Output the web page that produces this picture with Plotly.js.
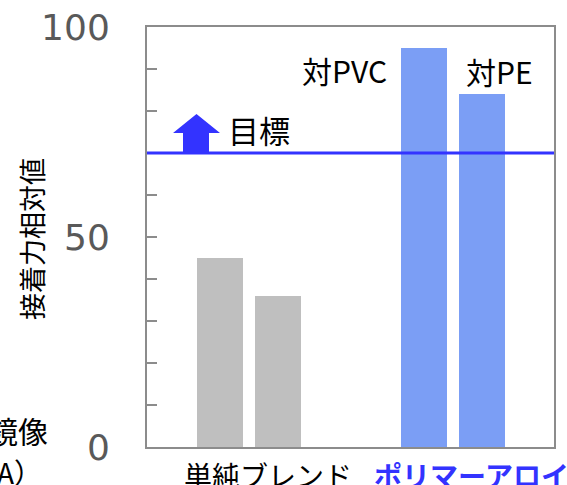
<!DOCTYPE html>
<html>
<head>
<meta charset="utf-8">
<script src="https://cdn.plot.ly/plotly-3.0.1.min.js"></script>
<style>html,body{margin:0;padding:0;background:#fff;}#chart{width:567px;height:485px;}</style>
</head>
<body>
<div id="chart"></div>
<script>
// ---- data ----
const groups = ['単純ブレンド', 'ポリマーアロイ'];
const substrates = ['対PVC', '対PE'];
const blendValues = [45, 36];
const alloyValues = [95, 84];
const targetValue = 70;
const targetLabel = '目標';
const yTitle = '接着力相対値';
const yTickLabels = ['0', '50', '100'];

// ---- layout geometry ----
const W = 567, H = 485;
const L = 147, R = 554, T = 27, B = 447;
const px = x => (x - L) / (R - L);
const py = y => (B - y) / (B - T);
const unit = 58; // px per x unit
const xOf = p => (p - L) / unit;
const blendPos = [xOf(220), xOf(278)];
const alloyPos = [xOf(424), xOf(482)];
const barW = 46 / unit;

const jp = '"Noto Sans CJK JP", "Noto Sans", sans-serif';
const blue = '#3333ff';

const traces = [
  {type: 'bar', x: blendPos, y: blendValues, width: barW, marker: {color: '#bfbfbf'},
   name: groups[0], text: substrates, hoverinfo: 'y', textposition: 'none'},
  {type: 'bar', x: alloyPos, y: alloyValues, width: barW, marker: {color: '#7b9ef5'},
   name: groups[1], text: substrates, hoverinfo: 'y', textposition: 'none'}
];

const tickvals = [];
for (let v = 0; v <= 100; v += 10) tickvals.push(v);
const ticktext = tickvals.map(v => (v % 50 === 0 ? yTickLabels[v / 50] : ''));

// arrow (pixel coords -> axis coords)
const ax = x => xOf(x);
const ay = y => (B - y) / 4.2;
const arrowPath = 'M' + ax(173) + ',' + ay(133) + ' L' + ax(196.5) + ',' + ay(114) + ' L' + ax(220) + ',' + ay(133) +
  ' L' + ax(209) + ',' + ay(133) + ' L' + ax(209) + ',' + targetValue + ' L' + ax(183) + ',' + targetValue +
  ' L' + ax(183) + ',' + ay(133) + ' Z';

function ann(x, y, text, size, opts) {
  return Object.assign({xref: 'paper', yref: 'paper', x: px(x), y: py(y), text: text, showarrow: false,
    xanchor: 'center', yanchor: 'middle', font: {family: jp, size: size, color: '#000'}}, opts || {});
}

const layout = {
  width: W, height: H,
  margin: {l: L, r: W - R, t: T, b: H - B},
  paper_bgcolor: '#fff', plot_bgcolor: '#fff',
  showlegend: false,
  bargap: 0,
  xaxis: {range: [0, (R - L) / unit], showgrid: false, zeroline: false, showticklabels: false, ticks: '',
          showline: true, mirror: true, linecolor: '#8c8c8c', linewidth: 2, fixedrange: true},
  yaxis: {range: [0, 100], tickvals: tickvals, ticktext: ticktext, ticks: 'inside', ticklen: 10,
          tickwidth: 2, tickcolor: '#8c8c8c', showgrid: false, zeroline: false,
          showline: true, mirror: true, linecolor: '#8c8c8c', linewidth: 2,
          ticklabelstandoff: 28,
          tickfont: {family: '"DejaVu Sans", Verdana, sans-serif', size: 36, color: '#595959'}, fixedrange: true},
  shapes: [
    {type: 'line', xref: 'paper', yref: 'y', x0: 0, x1: 1, y0: targetValue, y1: targetValue,
     line: {color: blue, width: 3}},
    {type: 'path', xref: 'x', yref: 'y', path: arrowPath, fillcolor: blue, line: {width: 0}}
  ],
  annotations: [
    ann(31, 239, yTitle, 27, {textangle: -90}),
    ann(226, 129, targetLabel, 31, {xanchor: 'left'}),
    ann(344, 70, substrates[0], 30),
    ann(499, 71, substrates[1], 30),
    ann(268, 475, groups[0], 28),
    ann(372, 475, '<b>' + groups[1] + '</b>', 28, {xanchor: 'left', font: {family: jp, size: 28, color: blue}}),
    ann(50, 430, '鏡像', 30, {xanchor: 'right'}),
    ann(44, 472, 'A）', 28, {xanchor: 'right'})
  ]
};

Plotly.newPlot('chart', traces, layout, {displayModeBar: false, staticPlot: true});
</script>
</body>
</html>
